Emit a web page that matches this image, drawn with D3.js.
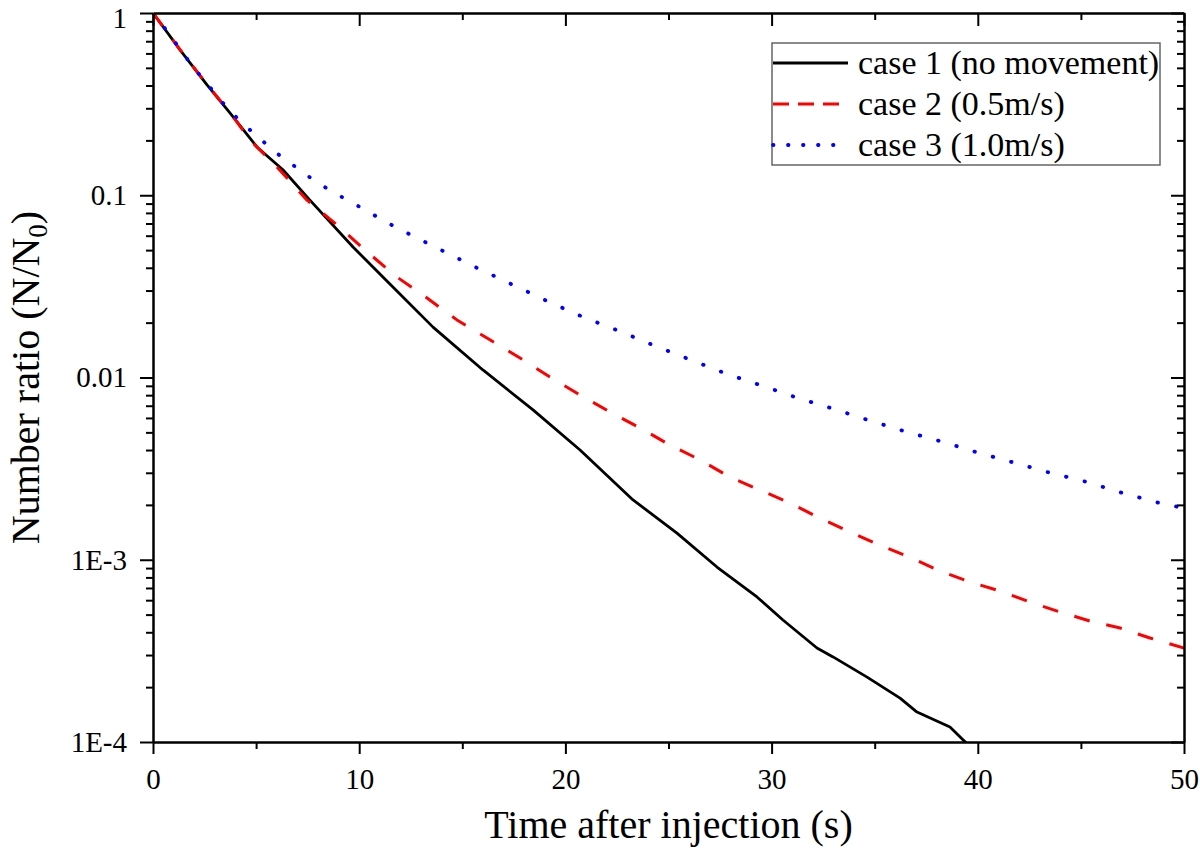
<!DOCTYPE html>
<html>
<head>
<meta charset="utf-8">
<script src="https://cdn.jsdelivr.net/npm/d3@7"></script>
<style>
  body { margin:0; background:#fff; }
  svg { font-family:"Liberation Serif", "Times New Roman", serif; }
  .axis path, .axis line { stroke:#000; stroke-width:2; }
  .axis text { font-size:29px; fill:#000; font-family:"Liberation Serif", serif; }
</style>
</head>
<body>
<div id="chart"></div>
<script>
// values
var timeCase1 = [0, 1.31, 2.62, 3.73, 5.04, 6.3, 7.61, 9.7, 11.15, 13.58, 16.0, 18.43, 20.71, 23.28, 25.41, 27.35, 29.29, 30.55, 32.2, 32.98, 34.63, 36.23, 37.05, 38.65, 39.28, 39.6];
var ratioCase1 = [1, 0.627, 0.403, 0.283, 0.184, 0.138, 0.094, 0.052, 0.0356, 0.0189, 0.011, 0.00664, 0.0040, 0.00213, 0.0014, 0.000912, 0.000625, 0.000467, 0.000328, 0.000293, 0.000227, 0.000174, 0.000146, 0.000121, 0.000103, 0.000095];

var timeCase2 = [0, 1.31, 2.62, 3.73, 4.7, 6.01, 7.47, 8.92, 10.38, 11.83, 13.29, 14.74, 16.34, 17.8, 19.25, 20.71, 22.16, 23.62, 25.07, 26.53, 27.98, 29.44, 30.89, 32.35, 33.8, 35.26, 36.71, 38.17, 39.62, 41.08, 42.53, 43.99, 45.44, 46.9, 48.35, 50];
var ratioCase2 = [1, 0.63, 0.405, 0.285, 0.201, 0.143, 0.094, 0.0687, 0.0489, 0.0356, 0.0273, 0.0207, 0.0161, 0.0128, 0.01006, 0.00802, 0.00647, 0.00529, 0.00426, 0.00353, 0.00284, 0.00241, 0.00205, 0.00169, 0.00142, 0.0012, 0.00103, 0.000867, 0.000755, 0.000674, 0.000586, 0.000517, 0.000461, 0.000422, 0.000372, 0.000328];

var timeCase3 = [0, 0.68, 1.31, 1.94, 2.67, 3.39, 4.22, 5.09, 5.97, 6.84, 7.71, 8.63, 9.51, 10.38, 11.2, 12.12, 13.87, 15.62, 17.36, 19.11, 20.85, 22.6, 24.35, 26.09, 27.84, 29.58, 31.28, 33.03, 34.82, 36.57, 38.31, 40.06, 41.8, 43.55, 45.3, 47.04, 48.79, 50];
var ratioCase3 = [1, 0.796, 0.634, 0.506, 0.403, 0.321, 0.255, 0.209, 0.171, 0.145, 0.123, 0.1055, 0.0929, 0.082, 0.0723, 0.0637, 0.0507, 0.0404, 0.0326, 0.0263, 0.0215, 0.018, 0.0149, 0.01248, 0.01045, 0.00898, 0.00771, 0.00671, 0.00577, 0.00502, 0.00443, 0.00385, 0.0034, 0.00299, 0.00267, 0.00232, 0.00205, 0.00192];

var seriesNames = ["case 1 (no movement)", "case 2 (0.5m/s)", "case 3 (1.0m/s)"];

var xMajorTicks = [0, 10, 20, 30, 40, 50];
var xMinorTicks = [5, 15, 25, 35, 45];
var yMajorTicks = [1e-4, 1e-3, 1e-2, 1e-1, 1];
var yTickLabels = ["1E-4", "1E-3", "0.01", "0.1", "1"];

var W = 1200, H = 852;
var m = {left:153, right:16, top:13, bottom:110};

var svg = d3.select("#chart").append("svg")
  .attr("width", W)
  .attr("height", H);

var x = d3.scaleLinear().domain([0, 50]).range([m.left, W - m.right]);
var y = d3.scaleLog().domain([1e-4, 1]).range([H - m.bottom, m.top]);

// minor ticks on the log axis: 2..9 in every decade
var yMinorTicks = [];
yMajorTicks.slice(0, -1).forEach(function(d){
  for (var k = 2; k <= 9; k++) yMinorTicks.push(d * k);
});

svg.append("clipPath").attr("id", "plotclip")
  .append("rect")
  .attr("x", x(0)).attr("y", y(1))
  .attr("width", x(50) - x(0))
  .attr("height", y(1e-4) - y(1));

// series
var series = [
  {t:timeCase1, v:ratioCase1, color:"#000", dash:null, width:2.8, cap:"butt"},
  {t:timeCase2, v:ratioCase2, color:"#ff0000", dash:"16,17", width:3, cap:"butt"},
  {t:timeCase3, v:ratioCase3, color:"#0000ff", dash:"0.5,18.5", width:3.8, cap:"round"}
];

var line = d3.line()
  .x(function(d){ return x(d[0]); })
  .y(function(d){ return y(d[1]); });

var plot = svg.append("g").attr("clip-path", "url(#plotclip)");
plot.selectAll(".series")
  .data(series)
  .enter()
    .append("path")
    .classed("series", true)
    .attr("fill", "none")
    .attr("stroke", function(d){ return d.color; })
    .attr("stroke-width", function(d){ return d.width; })
    .attr("stroke-linecap", function(d){ return d.cap; })
    .attr("stroke-linejoin", "round")
    .attr("stroke-dasharray", function(d){ return d.dash; })
    .attr("d", function(d){ return line(d3.zip(d.t, d.v)); });

// axes: all ticks point left / down like the original
function noText(g){ g.selectAll("text").remove(); }

svg.append("g").attr("class", "axis")
  .attr("transform", "translate(0," + y(1e-4) + ")")
  .call(d3.axisBottom(x).tickValues(xMajorTicks).tickSize(12).tickSizeOuter(0).tickPadding(14)
    .tickFormat(d3.format("d")));
svg.append("g").attr("class", "axis")
  .attr("transform", "translate(0," + y(1e-4) + ")")
  .call(d3.axisBottom(x).tickValues(xMinorTicks).tickSize(7).tickSizeOuter(0))
  .call(noText);

svg.append("g").attr("class", "axis")
  .attr("transform", "translate(0," + y(1) + ")")
  .call(d3.axisTop(x).tickValues(xMajorTicks).tickSize(-13).tickSizeOuter(0))
  .call(noText);
svg.append("g").attr("class", "axis")
  .attr("transform", "translate(0," + y(1) + ")")
  .call(d3.axisTop(x).tickValues(xMinorTicks).tickSize(-7).tickSizeOuter(0))
  .call(noText);

var yAxis = svg.append("g").attr("class", "axis")
  .attr("transform", "translate(" + x(0) + ",0)")
  .call(d3.axisLeft(y).tickValues(yMajorTicks).tickSize(13).tickSizeOuter(0).tickPadding(13)
    .tickFormat(function(d, i){ return yTickLabels[i]; }));
// top label sits against the page edge, push it down a little
yAxis.selectAll(".tick text")
  .filter(function(d){ return d === 1; })
  .attr("dy", "0.5em");
svg.append("g").attr("class", "axis")
  .attr("transform", "translate(" + x(0) + ",0)")
  .call(d3.axisLeft(y).tickValues(yMinorTicks).tickSize(7).tickSizeOuter(0))
  .call(noText);

svg.append("g").attr("class", "axis")
  .attr("transform", "translate(" + x(50) + ",0)")
  .call(d3.axisRight(y).tickValues(yMajorTicks).tickSize(-13).tickSizeOuter(0))
  .call(noText);
svg.append("g").attr("class", "axis")
  .attr("transform", "translate(" + x(50) + ",0)")
  .call(d3.axisRight(y).tickValues(yMinorTicks).tickSize(-7).tickSizeOuter(0))
  .call(noText);

// titles
svg.append("text")
  .attr("x", (x(0) + x(50)) / 2)
  .attr("y", 838)
  .attr("text-anchor", "middle")
  .attr("font-size", 40)
  .text("Time after injection (s)");

var yt = svg.append("text")
  .attr("transform", "translate(39," + ((y(1) + y(1e-4)) / 2) + ") rotate(-90)")
  .attr("text-anchor", "middle")
  .attr("font-size", 40);
yt.append("tspan").text("Number ratio (N/N");
yt.append("tspan").attr("font-size", 27).attr("dy", 8).text("0");
yt.append("tspan").attr("dy", -8).text(")");

// legend
var legend = svg.append("g").attr("transform", "translate(772,43)");
legend.append("rect")
  .attr("width", 388).attr("height", 122)
  .attr("fill", "#fff")
  .attr("stroke", "#666").attr("stroke-width", 1.5);

var legendDash = [null, "16,9", "0.5,14.5"];
var row = legend.selectAll(".row")
  .data(series)
  .enter()
    .append("g")
    .classed("row", true)
    .attr("transform", function(d, i){ return "translate(0," + (20 + i * 41) + ")"; });
row.append("line")
  .attr("x1", 1).attr("x2", 76)
  .attr("stroke", function(d){ return d.color; })
  .attr("stroke-width", function(d){ return d.width; })
  .attr("stroke-linecap", function(d){ return d.cap; })
  .attr("stroke-dasharray", function(d, i){ return legendDash[i]; });
row.append("text")
  .attr("x", 86).attr("y", 11)
  .attr("font-size", 34)
  .text(function(d, i){ return seriesNames[i]; });
</script>
</body>
</html>
